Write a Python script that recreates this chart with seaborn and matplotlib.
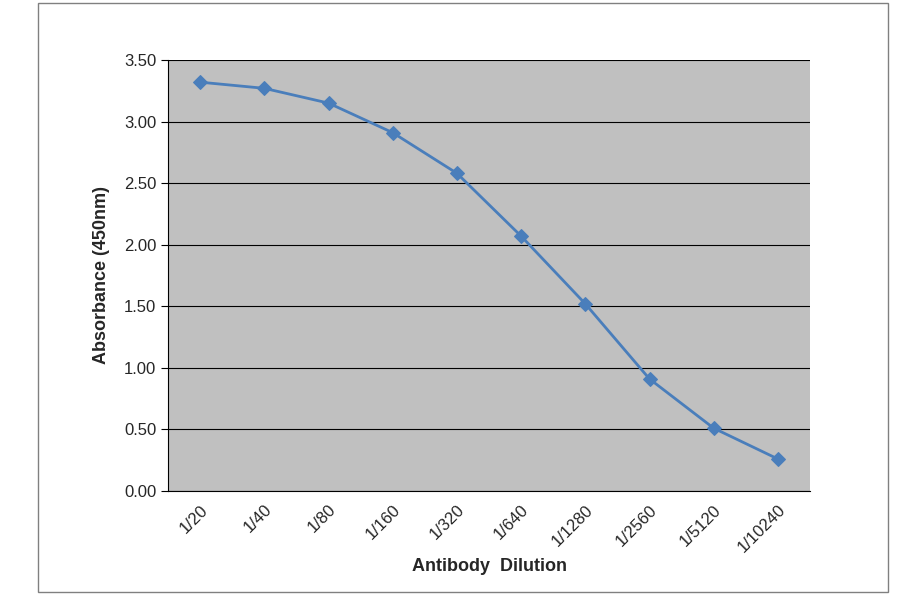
import numpy as np
import pandas as pd
import matplotlib
matplotlib.use("Agg")
import matplotlib.pyplot as plt
import seaborn as sns
from matplotlib.patches import Rectangle

dilutions = ["1/20", "1/40", "1/80", "1/160", "1/320", "1/640",
             "1/1280", "1/2560", "1/5120", "1/10240"]
absorbance = [3.32, 3.27, 3.15, 2.91, 2.58, 2.07, 1.52, 0.91, 0.51, 0.26]

df = pd.DataFrame({"pos": np.arange(len(dilutions)), "abs": absorbance})

sns.set_style("white")
plt.rcParams["font.family"] = ["Liberation Sans", "DejaVu Sans"]

fig = plt.figure(figsize=(9, 5.94), dpi=100)
fig.patches.append(Rectangle((38 / 900, 2 / 594), 850 / 900, 589 / 594,
                             transform=fig.transFigure, fill=False,
                             edgecolor="#808080", lw=1))
ax = fig.add_axes([168 / 900, 103 / 594, 642 / 900, 431 / 594])
ax.set_facecolor("#c0c0c0")

sns.lineplot(data=df, x="pos", y="abs", ax=ax, color="#4a7ebb", lw=2,
             marker="D", markersize=7, markeredgecolor="#4a7ebb")

ax.set_xlim(-0.5, len(dilutions) - 0.5)
ax.set_ylim(0, 3.5)
ax.set_yticks(np.arange(0, 3.51, 0.5))
ax.set_yticklabels([f"{v:.2f}" for v in np.arange(0, 3.51, 0.5)], fontsize=12)
ax.yaxis.grid(True, color="black", lw=0.8)
ax.set_axisbelow(True)

ax.set_xticks(df["pos"])
ax.set_xticklabels(dilutions, rotation=45, ha="right", rotation_mode="anchor", fontsize=12)
ax.tick_params(axis="x", length=0, pad=8)
ax.set_xticks(np.arange(-0.5, len(dilutions)), minor=True)
ax.tick_params(axis="x", which="minor", length=6, color="black", direction="out")
ax.tick_params(axis="y", length=5, color="black", direction="out", left=True)

for s in ["top", "right"]:
    ax.spines[s].set_visible(False)
for s in ["left", "bottom"]:
    ax.spines[s].set_color("black")

ax.set_xlabel("Antibody  Dilution", fontsize=13, fontweight="bold", labelpad=2)
ax.set_ylabel("Absorbance (450nm)", fontsize=13, fontweight="bold", labelpad=10)

fig.savefig("out.png", dpi=100)
